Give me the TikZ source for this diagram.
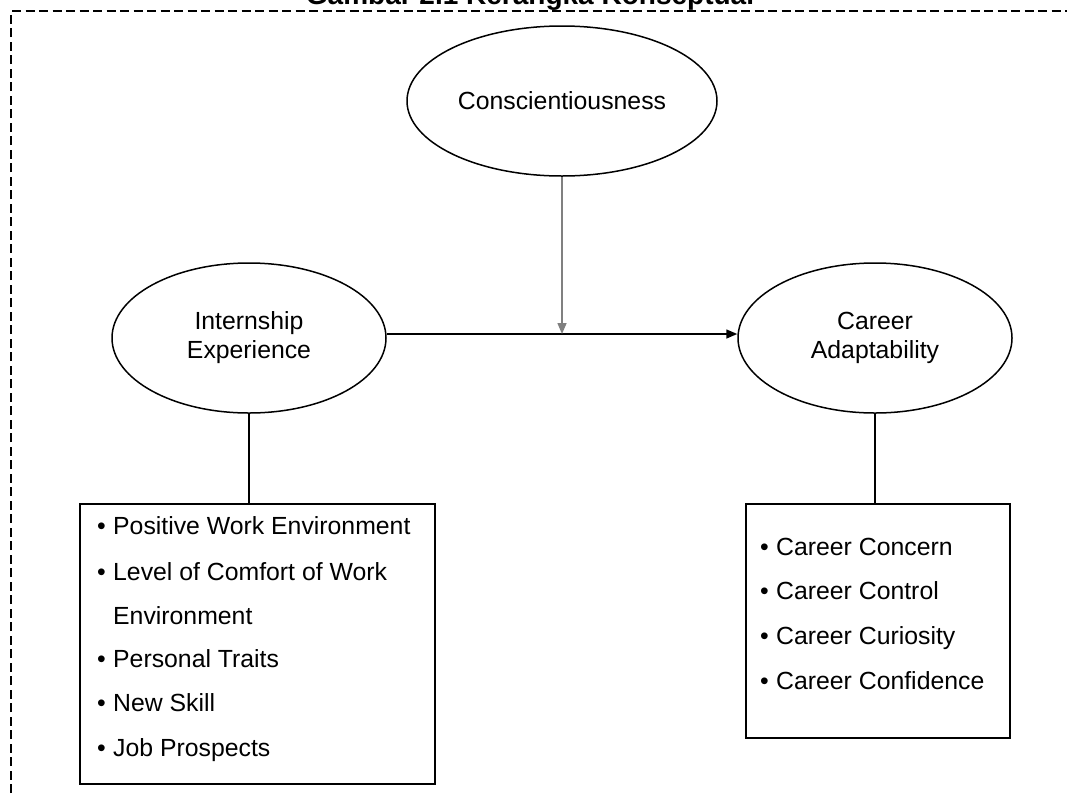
\documentclass[tikz,border=0pt]{standalone}
\usepackage{fontspec}
\setmainfont{Liberation Sans}
\usetikzlibrary{shapes.geometric,arrows.meta,calc}

\tikzset{
  construct/.style={draw=black, line width=1.5pt, ellipse, inner sep=0pt,
    minimum width=274pt, minimum height=150pt, align=center,
    font=\fontsize{24.8}{29}\selectfont},
  listbox/.style={draw=black, line width=1.8pt, rectangle, inner sep=0pt,
    anchor=north west},
  item/.style={anchor=base west, inner sep=0pt,
    font=\fontsize{24.8}{29}\selectfont},
  link/.style={draw=black, line width=1.5pt},
  effect/.style={link, -{Triangle[length=11pt,width=9pt]}},
  moderation/.style={draw=gray, line width=1.5pt,
    -{Triangle[length=11pt,width=9pt]}},
  frame/.style={draw=black, line width=2.2pt, dash pattern=on 9pt off 4.5pt},
}
\newcommand{\bul}{\makebox[16pt][l]{\textbullet}}

\begin{document}
\begin{tikzpicture}[x=1pt, y=-1pt]
  \useasboundingbox (0,0) rectangle (1067,793);
  \clip (0,0) rectangle (1067,793);
  \fill[white] (0,0) rectangle (1067,793);

  % caption above the dashed frame
  \node[anchor=base, inner sep=0pt, font=\fontsize{28}{32}\selectfont\bfseries]
    (caption) at (530,4) {Gambar 2.1 Kerangka Konseptual};

  % dashed frame
  \coordinate (fbl) at (11,820);
  \coordinate (ftl) at (11,11);
  \coordinate (ftr) at (1100,11);
  \draw[frame] (fbl) -- (ftl) -- (ftr);

  % constructs
  \node[construct, minimum width=310pt] (consc) at (562,101) {Conscientiousness};
  \node[construct] (intern) at (249,338) {Internship\\Experience};
  \node[construct] (adapt) at (875,338) {Career\\Adaptability};

  % main effect and moderation
  \draw[effect] (intern.east |- 0,334) -- (adapt.west |- 0,334);
  \coordinate (mod) at (562,334);
  \draw[moderation] (consc.south) -- (mod);

  % indicator boxes
  \node[listbox, minimum width=355pt, minimum height=280pt] (ibox) at (79,503) {};
  \node[listbox, minimum width=264pt, minimum height=234pt] (abox) at (745,503) {};
  \draw[link] (intern.south) -- (intern.south |- ibox.north);
  \draw[link] (adapt.south) -- (adapt.south |- abox.north);

  % indicators of internship experience
  \node[item] (i1) at (97,534) {\bul Positive Work Environment};
  \node[item] (i2) at (97,580) {\bul Level of Comfort of Work};
  \node[item] (i3) at (113,624) {Environment};
  \node[item] (i4) at (97,667) {\bul Personal Traits};
  \node[item] (i5) at (97,711) {\bul New Skill};
  \node[item] (i6) at (97,756) {\bul Job Prospects};

  % indicators of career adaptability
  \node[item] (a1) at (760,555) {\bul Career Concern};
  \node[item] (a2) at (760,599) {\bul Career Control};
  \node[item] (a3) at (760,644) {\bul Career Curiosity};
  \node[item] (a4) at (760,689) {\bul Career Confidence};
\end{tikzpicture}
\end{document}
